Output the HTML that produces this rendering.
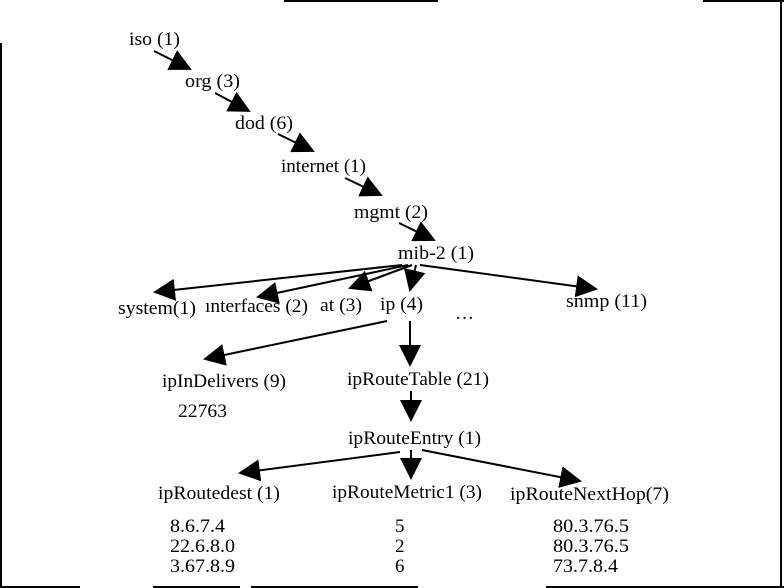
<!DOCTYPE html>
<html><head><meta charset="utf-8"><style>
html,body{margin:0;padding:0;background:#fff;width:784px;height:588px;overflow:hidden}
text{font-family:"Liberation Serif",serif;font-size:19px;fill:#000}
</style></head><body>
<svg width="784" height="588" viewBox="0 0 784 588" xmlns="http://www.w3.org/2000/svg">
<defs><marker id="a" markerWidth="22" markerHeight="22" refX="20" refY="11" orient="auto" markerUnits="userSpaceOnUse"><path d="M0,0 L22,11 L0,22 Z" fill="#000"/></marker></defs>
<g stroke="#000" stroke-width="2">
<line x1="284" y1="1" x2="438" y2="1"/><line x1="703" y1="1" x2="784" y2="1"/>
<line x1="1" y1="43" x2="1" y2="588"/><line x1="781" y1="0" x2="781" y2="588"/>
<line x1="0" y1="587" x2="80" y2="587"/><line x1="153" y1="587" x2="240" y2="587"/><line x1="251" y1="587" x2="418" y2="587"/><line x1="546" y1="587" x2="784" y2="587"/>
</g>
<g stroke="#000" stroke-width="2" marker-end="url(#a)">
<line x1="154" y1="51" x2="190" y2="69"/>
<line x1="215" y1="93" x2="249" y2="111"/>
<line x1="278" y1="134" x2="313" y2="151"/>
<line x1="345" y1="178" x2="381" y2="195"/>
<line x1="399" y1="223" x2="434" y2="240"/>
<line x1="402" y1="265" x2="155" y2="292"/>
<line x1="408" y1="265" x2="258" y2="297"/>
<line x1="412" y1="265" x2="350" y2="288"/>
<line x1="416" y1="265" x2="410" y2="290"/>
<line x1="420" y1="265" x2="596" y2="289"/>
<line x1="387" y1="321" x2="205" y2="359"/>
<line x1="410" y1="321" x2="410" y2="365"/>
<line x1="411" y1="391" x2="411" y2="420"/>
<line x1="400" y1="452" x2="240" y2="473"/>
<line x1="411" y1="450" x2="411" y2="478"/>
<line x1="422" y1="450" x2="580" y2="481"/>
</g>
<g lengthAdjust="spacingAndGlyphs">
<text x="129" y="45" textLength="51" lengthAdjust="spacingAndGlyphs">iso (1)</text>
<text x="185" y="87" textLength="55" lengthAdjust="spacingAndGlyphs">org (3)</text>
<text x="235" y="129" textLength="58" lengthAdjust="spacingAndGlyphs">dod (6)</text>
<text x="281" y="172" textLength="85" lengthAdjust="spacingAndGlyphs">internet (1)</text>
<text x="354" y="218" textLength="74" lengthAdjust="spacingAndGlyphs">mgmt (2)</text>
<text x="398" y="259" textLength="76" lengthAdjust="spacingAndGlyphs">mib-2 (1)</text>
<text x="118" y="314" textLength="78" lengthAdjust="spacingAndGlyphs">system(1)</text>
<text x="205" y="312" textLength="103" lengthAdjust="spacingAndGlyphs">ınterfaces (2)</text>
<text x="320" y="311" textLength="42" lengthAdjust="spacingAndGlyphs">at (3)</text>
<text x="380" y="310" textLength="43" lengthAdjust="spacingAndGlyphs">ip (4)</text>
<text x="455" y="319">…</text>
<text x="566" y="307" textLength="81" lengthAdjust="spacingAndGlyphs">snmp (11)</text>
<text x="162" y="387" textLength="124" lengthAdjust="spacingAndGlyphs">ipInDelivers (9)</text>
<text x="347" y="385" textLength="142" lengthAdjust="spacingAndGlyphs">ipRouteTable (21)</text>
<text x="178" y="417" textLength="49" lengthAdjust="spacingAndGlyphs">22763</text>
<text x="348" y="444" textLength="133" lengthAdjust="spacingAndGlyphs">ipRouteEntry (1)</text>
<text x="158" y="499" textLength="122" lengthAdjust="spacingAndGlyphs">ipRoutedest (1)</text>
<text x="332" y="498" textLength="150" lengthAdjust="spacingAndGlyphs">ipRouteMetric1 (3)</text>
<text x="510" y="500" textLength="159" lengthAdjust="spacingAndGlyphs">ipRouteNextHop(7)</text>
<text x="170" y="532" textLength="55" lengthAdjust="spacingAndGlyphs">8.6.7.4</text>
<text x="170" y="552" textLength="65" lengthAdjust="spacingAndGlyphs">22.6.8.0</text>
<text x="170" y="572" textLength="65" lengthAdjust="spacingAndGlyphs">3.67.8.9</text>
<text x="395" y="532">5</text>
<text x="395" y="552">2</text>
<text x="395" y="572">6</text>
<text x="553" y="532" textLength="76" lengthAdjust="spacingAndGlyphs">80.3.76.5</text>
<text x="553" y="552" textLength="76" lengthAdjust="spacingAndGlyphs">80.3.76.5</text>
<text x="553" y="572" textLength="65" lengthAdjust="spacingAndGlyphs">73.7.8.4</text>
</g>
</svg>
</body></html>
